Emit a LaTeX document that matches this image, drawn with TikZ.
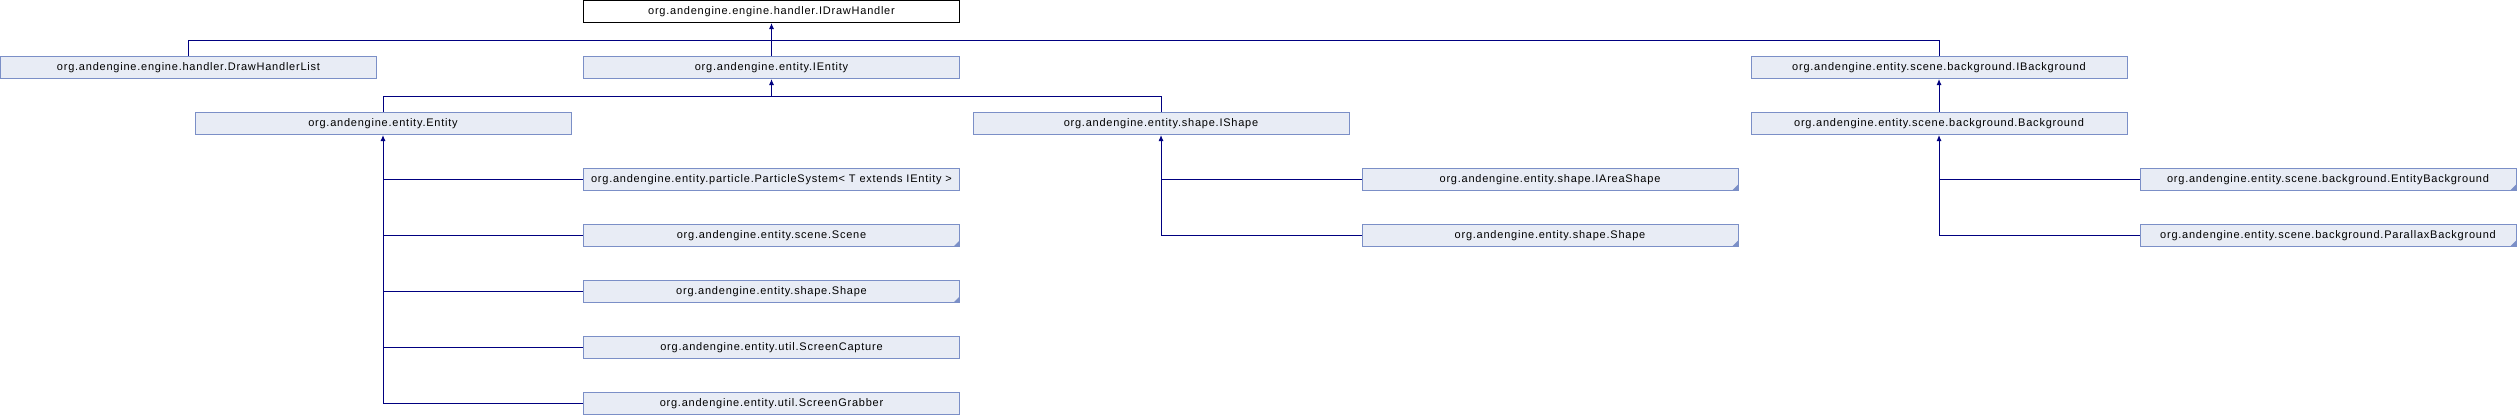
\documentclass[tikz,border=0pt]{standalone}
\usepackage{fontspec}
\newfontfamily\classfont[LetterSpace=7]{Liberation Sans}
\usetikzlibrary{arrows.meta}

\definecolor{boxfill}{HTML}{E8ECF5}
\definecolor{boxline}{HTML}{7B8FC7}
\definecolor{edgeblue}{HTML}{000080}

\tikzset{
  cls/.style={draw=boxline, fill=boxfill, line width=1pt,
    minimum width=376pt, minimum height=22pt, inner sep=0pt,
    font=\classfont\fontsize{11}{13}\selectfont},
  root/.style={cls, draw=black, fill=white},
  more/.style={path picture={\fill[boxline] (path picture bounding box.south east)
    -- ++(-6pt,0pt) -- ++(6pt,6pt) -- cycle;}},
  edge/.style={draw=edgeblue, line width=1pt},
  inh/.style={edge, -{Latex[length=6pt,width=5pt]}},
}

\begin{document}
\begin{tikzpicture}[x=1pt, y=-1pt]
    \useasboundingbox (0,0) rectangle (2518,416);

    % classes
    \node [root] (IDrawHandler) at (771.5, 11.5) {org.andengine.engine.handler.IDrawHandler};
    \node [cls] (DrawHandlerList) at (188.5, 67.5) {org.andengine.engine.handler.DrawHandlerList};
    \node [cls] (IEntity) at (771.5, 67.5) {org.andengine.entity.IEntity};
    \node [cls] (IBackground) at (1939, 67.5) {org.andengine.entity.scene.background.IBackground};
    \node [cls] (Entity) at (383, 123.5) {org.andengine.entity.Entity};
    \node [cls] (IShape) at (1161, 123.5) {org.andengine.entity.shape.IShape};
    \node [cls] (Background) at (1939, 123.5) {org.andengine.entity.scene.background.Background};
    \node [cls] (ParticleSystem) at (771.5, 179.5) {org.andengine.entity.particle.ParticleSystem< T extends IEntity >};
    \node [cls, more] (IAreaShape) at (1550, 179.5) {org.andengine.entity.shape.IAreaShape};
    \node [cls, more] (EntityBackground) at (2328, 179.5) {org.andengine.entity.scene.background.EntityBackground};
    \node [cls, more] (Scene) at (771.5, 235.5) {org.andengine.entity.scene.Scene};
    \node [cls, more] (ShapeR) at (1550, 235.5) {org.andengine.entity.shape.Shape};
    \node [cls, more] (ParallaxBackground) at (2328, 235.5) {org.andengine.entity.scene.background.ParallaxBackground};
    \node [cls, more] (ShapeL) at (771.5, 291.5) {org.andengine.entity.shape.Shape};
    \node [cls] (ScreenCapture) at (771.5, 347.5) {org.andengine.entity.util.ScreenCapture};
    \node [cls] (ScreenGrabber) at (771.5, 403.5) {org.andengine.entity.util.ScreenGrabber};

    % buses
    \coordinate (busA) at (771.5, 40.5);
    \coordinate (busB) at (771.5, 96.5);

    \draw [edge] (DrawHandlerList.north) |- (busA) -| (IBackground.north);
    \draw [inh] (IEntity.north) -- (IDrawHandler.south);
    \draw [edge] (Entity.north) |- (busB) -| (IShape.north);
    \draw [inh] (busB) -- (IEntity.south);
    \draw [inh] (Background.north) -- (IBackground.south);

    \draw [inh] (Entity.south |- ScreenGrabber.west) -- (Entity.south);
    \foreach \c in {ParticleSystem, Scene, ShapeL, ScreenCapture, ScreenGrabber}
        \draw [edge] (Entity.south |- \c.west) -- (\c.west);

    \draw [inh] (IShape.south |- ShapeR.west) -- (IShape.south);
    \foreach \c in {IAreaShape, ShapeR}
        \draw [edge] (IShape.south |- \c.west) -- (\c.west);

    \draw [inh] (Background.south |- ParallaxBackground.west) -- (Background.south);
    \foreach \c in {EntityBackground, ParallaxBackground}
        \draw [edge] (Background.south |- \c.west) -- (\c.west);
\end{tikzpicture}
\end{document}
